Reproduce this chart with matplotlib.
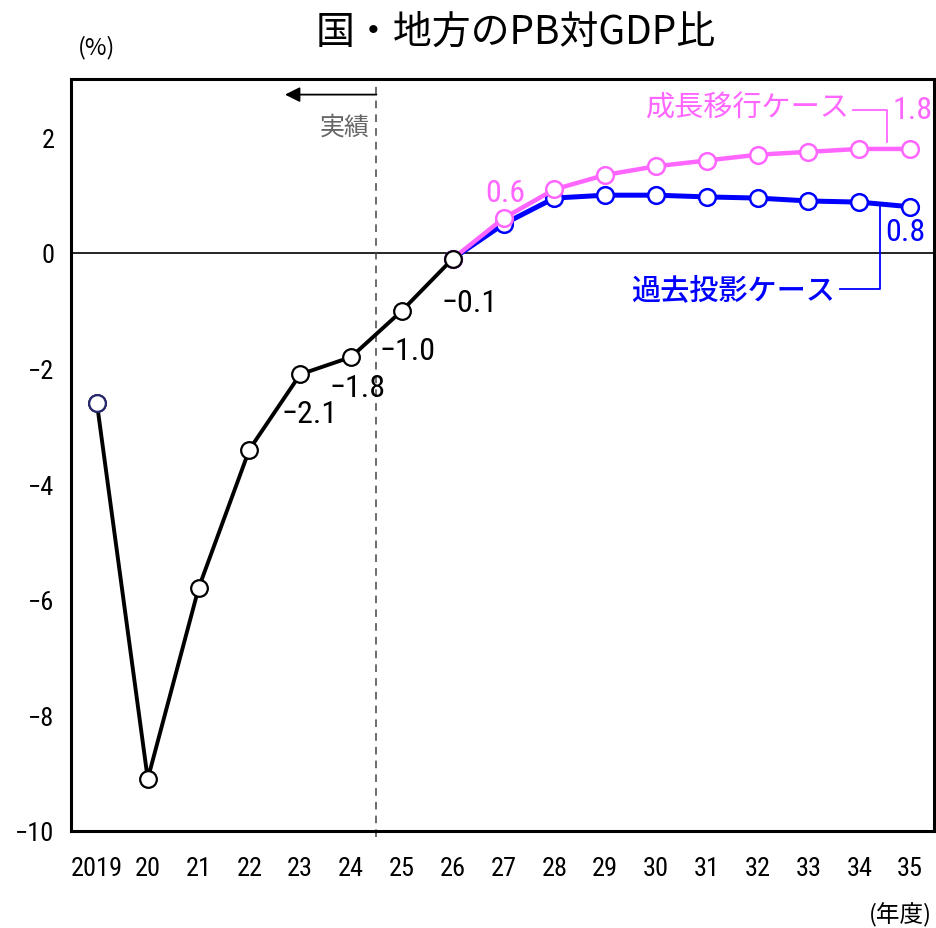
import matplotlib
matplotlib.use("Agg")
import matplotlib.pyplot as plt

# ---- data ----
years = ["2019", "20", "21", "22", "23", "24", "25", "26", "27", "28", "29",
         "30", "31", "32", "33", "34", "35"]
actual = [-2.6, -9.1, -5.8, -3.4, -2.1, -1.8, -1.0, -0.1]          # 2019-26
growth = [-0.1, 0.6, 1.1, 1.35, 1.5, 1.6, 1.7, 1.75, 1.8, 1.8]      # 26-35
baseline = [-0.1, 0.5, 0.95, 1.0, 1.0, 0.97, 0.95, 0.9, 0.88, 0.8]  # 26-35
actual_labels = {4: "−2.1", 5: "−1.8", 6: "−1.0", 7: "−0.1"}
yticks = [-10, -8, -6, -4, -2, 0, 2]
ytick_labels = ["−10", "−8", "−6", "−4", "−2", "0", "2"]

PINK = "#FF66FF"
BLUE = "#0000FF"
CJK = ["Noto Sans CJK JP", "DejaVu Sans"]
NUM = ["Roboto Condensed", "Liberation Sans Narrow", "DejaVu Sans Condensed",
       "Noto Sans CJK JP", "DejaVu Sans"]

plt.rcParams["font.family"] = NUM
plt.rcParams["font.stretch"] = "condensed"

fig = plt.figure(figsize=(9.37, 9.29), dpi=100)
ax = fig.add_axes([71 / 937, 1 - 832 / 929, 863 / 937, 752 / 929])

x_act = list(range(len(actual)))
x_proj = list(range(len(actual) - 1, len(years)))

ax.axhline(0, color="black", lw=1.2, zorder=1)
ax.axvline(5.5, ymin=-0.008, ymax=1, color="#444444", lw=1.1,
           ls=(0, (5, 4)), clip_on=False, zorder=1)

ms = 12
ax.plot(x_proj, baseline, color=BLUE, lw=3.6, marker="o", ms=ms,
        mfc="white", mec=BLUE, mew=1.8, zorder=3)
ax.plot(x_proj, growth, color=PINK, lw=3.2, marker="o", ms=ms,
        mfc="white", mec=PINK, mew=1.8, zorder=4)
ax.plot(x_act, actual, color="black", lw=2.8, marker="o", ms=ms,
        mfc="white", mec="black", mew=1.6, zorder=5)
ax.plot(x_act[:1], actual[:1], ls="none", marker="o", ms=ms,
        mfc="white", mec="#2a2a70", mew=1.6, zorder=6)

# data labels
lab_pos = {4: (4.19, -2.77), 5: (5.12, -2.32), 6: (6.12, -1.69), 7: (7.34, -0.85)}
for i, t in actual_labels.items():
    px, py = lab_pos[i]
    ax.text(px, py, t, fontsize=23, ha="center", va="center", color="black")
ax.text(8.03, 1.04, f"{growth[1]:.1f}", fontsize=23, ha="center", va="center", color=PINK)
ax.text(16.04, 2.48, f"{growth[-1]:.1f}", fontsize=23, ha="center", va="center", color=PINK)
ax.text(15.9, 0.38, f"{baseline[-1]:.1f}", fontsize=23, ha="center", va="center", color=BLUE)

# series names with connectors
ax.text(14.82, 2.51, "成長移行ケース", family=CJK, fontsize=21, ha="right",
        va="center", color=PINK)
ax.plot([14.88, 15.55, 15.55], [2.48, 2.48, 1.92], color=PINK, lw=1.3, zorder=2)
ax.text(14.53, -0.64, "過去投影ケース", family=CJK, fontsize=21, ha="right",
        va="center", color=BLUE, fontweight="medium")
ax.plot([14.63, 15.41, 15.41], [-0.62, -0.62, 0.86], color=BLUE, lw=1.3, zorder=2)

# actual arrow
ax.annotate("", xy=(3.70, 2.74), xytext=(5.5, 2.74),
            arrowprops=dict(arrowstyle="-|>,head_length=0.9,head_width=0.45",
                            color="black", lw=1.3, shrinkA=0, shrinkB=0))
ax.text(4.88, 2.18, "実績", family=CJK, fontsize=18, ha="center", va="center",
        color="#666666")

ax.set_xlim(-0.51, 16.47)
ax.set_ylim(-10, 3.01)
ax.set_xticks(range(len(years)))
ax.set_xticklabels(years, fontsize=19)
ax.set_yticks(yticks)
ax.set_yticklabels(ytick_labels, fontsize=19)
ax.tick_params(axis="x", length=0, pad=18)
ax.tick_params(axis="y", length=0, pad=12)
for s in ax.spines.values():
    s.set_linewidth(2.2)
    s.set_color("black")

fig.text(516 / 937, 1 - 33 / 929, "国・地方のPB対GDP比", family=CJK, fontsize=28,
         ha="center", va="center")
fig.text(97 / 937, 1 - 48 / 929, "(%)", family=CJK, fontsize=17, ha="center",
         va="center")
fig.text(932 / 937, 1 - 915 / 929, "(年度)", family=CJK, fontsize=17, ha="right",
         va="center")

fig.savefig("out.png", dpi=100)
